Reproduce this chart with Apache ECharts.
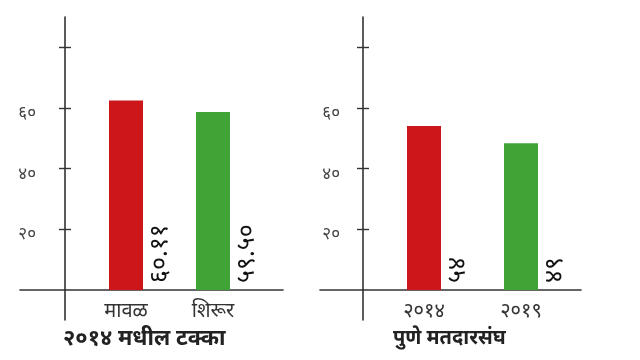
<!DOCTYPE html>
<html><head><meta charset="utf-8">
<script src="https://cdn.jsdelivr.net/npm/echarts@6/dist/echarts.min.js"></script>
<style>html,body{margin:0;padding:0;background:#fff}#c{width:640px;height:360px}</style>
</head><body><div id="c"></div>
<script>
const leftCategories = ['मावळ', 'शिरूर'];
const leftValues = [62.5, 58.7];
const leftLabels = ['६०.११', '५९.५०'];
const rightCategories = ['२०१४', '२०१९'];
const rightValues = [54.1, 48.4];
const rightLabels = ['५४', '४९'];
const yTicks = [20, 40, 60, 80];
const yTickLabels = [20, 40, 60];
const titles = ['२०१४ मधील टक्का', 'पुणे मतदारसंघ'];
const barColors = ['#cc1619', '#3fa336'];

const devDigits = '०१२३४५६७८९';
const toDev = n => String(n).replace(/[0-9]/g, d => devDigits[+d]);
const FONT = "'Noto Sans', 'Noto Sans Devanagari', sans-serif";
const AX = '#333';

function panel(gi, cats, xmin, xmax, yOffset, labelMargin) {
  const xAxes = [
    { gridIndex: gi, type: 'value', min: xmin, max: xmax,
      axisLine: { show: true, lineStyle: { color: AX, width: 1.6 } },
      axisTick: { show: false }, splitLine: { show: false },
      axisLabel: { customValues: [1, 2], formatter: v => cats[Math.round(v) - 1], margin: 11,
        fontSize: 20, color: AX, fontFamily: FONT } },
    { gridIndex: gi + 1, type: 'value', min: 0, max: 1, show: false }
  ];
  const yAxes = [
    { gridIndex: gi, type: 'value', min: 0, max: 90, position: 'left', offset: yOffset,
      axisLine: { show: true, lineStyle: { color: AX, width: 1.6 } },
      axisTick: { show: true, customValues: yTicks, length: 6, lineStyle: { color: AX, width: 1.4 } },
      axisLabel: { customValues: yTickLabels, formatter: v => toDev(v), margin: labelMargin,
        fontSize: 17, color: '#444', fontFamily: FONT, verticalAlign: 'top', lineHeight: 10 },
      splitLine: { show: false } },
    { gridIndex: gi, type: 'value', min: 0, max: 90, position: 'left', offset: yOffset,
      axisLine: { show: false },
      axisTick: { show: true, inside: true, customValues: yTicks, length: 6, lineStyle: { color: AX, width: 1.4 } },
      axisLabel: { show: false }, splitLine: { show: false } },
    { gridIndex: gi + 1, type: 'value', min: 0, max: 1, position: 'left', offset: yOffset,
      axisLine: { show: true, lineStyle: { color: AX, width: 1.6 } },
      axisTick: { show: false }, axisLabel: { show: false }, splitLine: { show: false } }
  ];
  return { xAxes, yAxes };
}

const L = panel(0, leftCategories, -0.2184, 2.8046, -45, 29);
const R = panel(2, rightCategories, -0.0722, 2.6186, -43, 23);

function barSeries(xi, yi, vals, labels) {
  return {
    type: 'bar', xAxisIndex: xi, yAxisIndex: yi, barWidth: 34,
    data: vals.map((v, i) => ({ value: [i + 1, v], itemStyle: { color: barColors[i] },
      label: { formatter: labels[i] } })),
    label: { show: true, position: ['100%', '100%'], rotate: 90, align: 'left', verticalAlign: 'top',
      offset: [7, 4], fontSize: 25, color: '#111', fontFamily: FONT }
  };
}

const chart = echarts.init(document.getElementById('c'), null, { renderer: 'canvas' });
chart.setOption({
  animation: false,
  backgroundColor: '#fff',
  textStyle: { fontFamily: FONT },
  title: [
    { text: titles[0], left: 58, top: 323, textStyle: { fontSize: 22, fontWeight: 'bold', color: '#222', fontFamily: FONT } },
    { text: titles[1], left: 388, top: 323, textStyle: { fontSize: 20, fontWeight: 'bold', color: '#222', fontFamily: FONT } }
  ],
  grid: [
    { left: 20, width: 263, top: 17, height: 273 },
    { left: 20, width: 263, top: 290, height: 30 },
    { left: 320, width: 261, top: 17, height: 273 },
    { left: 320, width: 261, top: 290, height: 30 }
  ],
  xAxis: [...L.xAxes, ...R.xAxes],
  yAxis: [...L.yAxes, ...R.yAxes],
  series: [
    barSeries(0, 0, leftValues, leftLabels),
    barSeries(2, 3, rightValues, rightLabels)
  ]
});
</script></body></html>
